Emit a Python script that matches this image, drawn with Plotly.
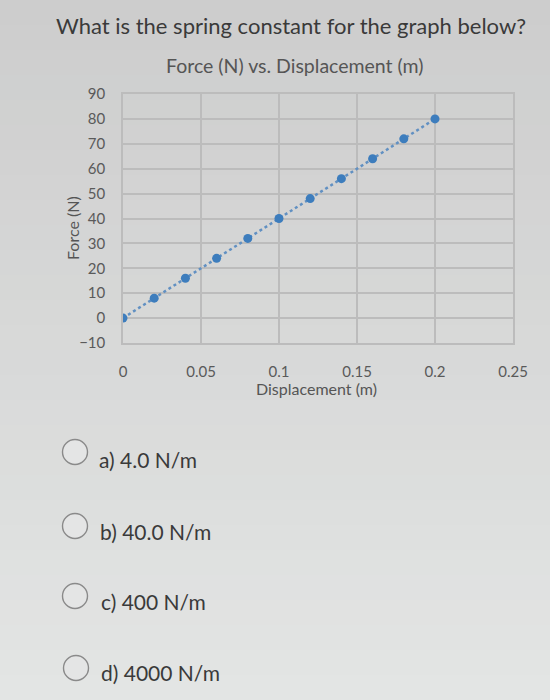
import plotly.graph_objects as go

# Spring data: displacement (m) and applied force (N)
displacement = [0.0, 0.02, 0.04, 0.06, 0.08, 0.10, 0.12, 0.14, 0.16, 0.18, 0.20]
force = [0, 8, 16, 24, 32, 40, 48, 56, 64, 72, 80]

x_ticks = [0, 0.05, 0.1, 0.15, 0.2, 0.25]
x_tick_labels = ["0", "0.05", "0.1", "0.15", "0.2", "0.25"]
y_ticks = [-10, 0, 10, 20, 30, 40, 50, 60, 70, 80, 90]

question = "What is the spring constant for the graph below?"
chart_title = "Force (N) vs. Displacement (m)"
choices = ["a) 4.0 N/m", "b) 40.0 N/m", "c) 400 N/m", "d) 4000 N/m"]

W, H = 550, 700
PL, PR, PT, PB = 123, 513, 94, 343  # plot area in pixels


def px(x):
    return (x - PL) / (PR - PL)


def py(y):
    return (PB - y) / (PB - PT)


FONT = "Lato"
grid = "#bcbcbc"

fig = go.Figure()
fig.add_trace(go.Scatter(
    x=displacement, y=force, mode="lines+markers",
    line=dict(color="#6190c2", width=2.5, dash="dot"),
    marker=dict(color="#3d7dbd", size=9),
    showlegend=False, hoverinfo="skip",
))

fig.update_layout(
    width=W, height=H,
    margin=dict(l=PL, r=W - PR, t=PT, b=H - PB),
    paper_bgcolor="#dadbdb",
    plot_bgcolor="rgba(232,233,233,0.45)",
    font=dict(family=FONT, color="#5a5a5a"),
    xaxis=dict(
        range=[0, 0.25], tickvals=x_ticks, ticktext=x_tick_labels,
        showgrid=True, gridcolor=grid, gridwidth=1.5, zeroline=False,
        showline=True, linecolor=grid, linewidth=1.5, mirror=True,
        ticks="", tickfont=dict(size=15, color="#5a5a5a"),
        ticklabelstandoff=14, fixedrange=True,
    ),
    yaxis=dict(
        range=[-10, 90], tickvals=y_ticks,
        showgrid=True, gridcolor=grid, gridwidth=1.5, zeroline=False,
        showline=True, linecolor=grid, linewidth=1.5, mirror=True,
        ticks="", tickfont=dict(size=15, color="#5a5a5a"),
        ticklabelstandoff=13, fixedrange=True,
    ),
)

# soft vertical shading of the page background, darker at the top
shapes = []
bands = 28
for i in range(bands):
    t = i / (bands - 1)
    c = [round(205 + (227 - 205) * t), round(205 + (229 - 205) * t), round(205 + (228 - 205) * t)]
    shapes.append(dict(type="rect", xref="paper", yref="paper", layer="below",
                       x0=px(0), x1=px(W), y0=py(H * (i + 1) / bands), y1=py(H * i / bands),
                       line=dict(width=0), fillcolor=f"rgb({c[0]},{c[1]},{c[2]})"))

annotations = [
    dict(text=question, x=px(291), y=py(25), font=dict(size=22, color="#3a3a3a")),
    dict(text=chart_title, x=px(295), y=py(65), font=dict(size=19.5, color="#555555")),
    dict(text="Displacement (m)", x=px(316), y=py(388), font=dict(size=16, color="#555555")),
    dict(text="Force (N)", x=px(72), y=py(228), textangle=-90, font=dict(size=16, color="#555555")),
]

text_y = [459, 531, 601, 672]
circle_y = [452, 526, 596, 668]
circle_x = [75, 75, 75, 76]
text_x = [97, 98, 99, 99]
for label, ty, cy, cx, tx in zip(choices, text_y, circle_y, circle_x, text_x):
    annotations.append(dict(text=label, x=px(tx), y=py(ty), xanchor="left",
                            font=dict(size=21, color="#3a3a3a")))
    shapes.append(dict(type="circle", xref="paper", yref="paper",
                       x0=px(cx - 12.5), x1=px(cx + 12.5), y0=py(cy + 12.5), y1=py(cy - 12.5),
                       line=dict(color="#8a8a8a", width=1.4), fillcolor="#e4e5e5"))

for a in annotations:
    a.update(xref="paper", yref="paper", showarrow=False)
    a.setdefault("xanchor", "center")
    a.setdefault("yanchor", "middle")
    a["font"]["family"] = FONT

fig.update_layout(annotations=annotations, shapes=shapes)
fig.write_html("out.html")
